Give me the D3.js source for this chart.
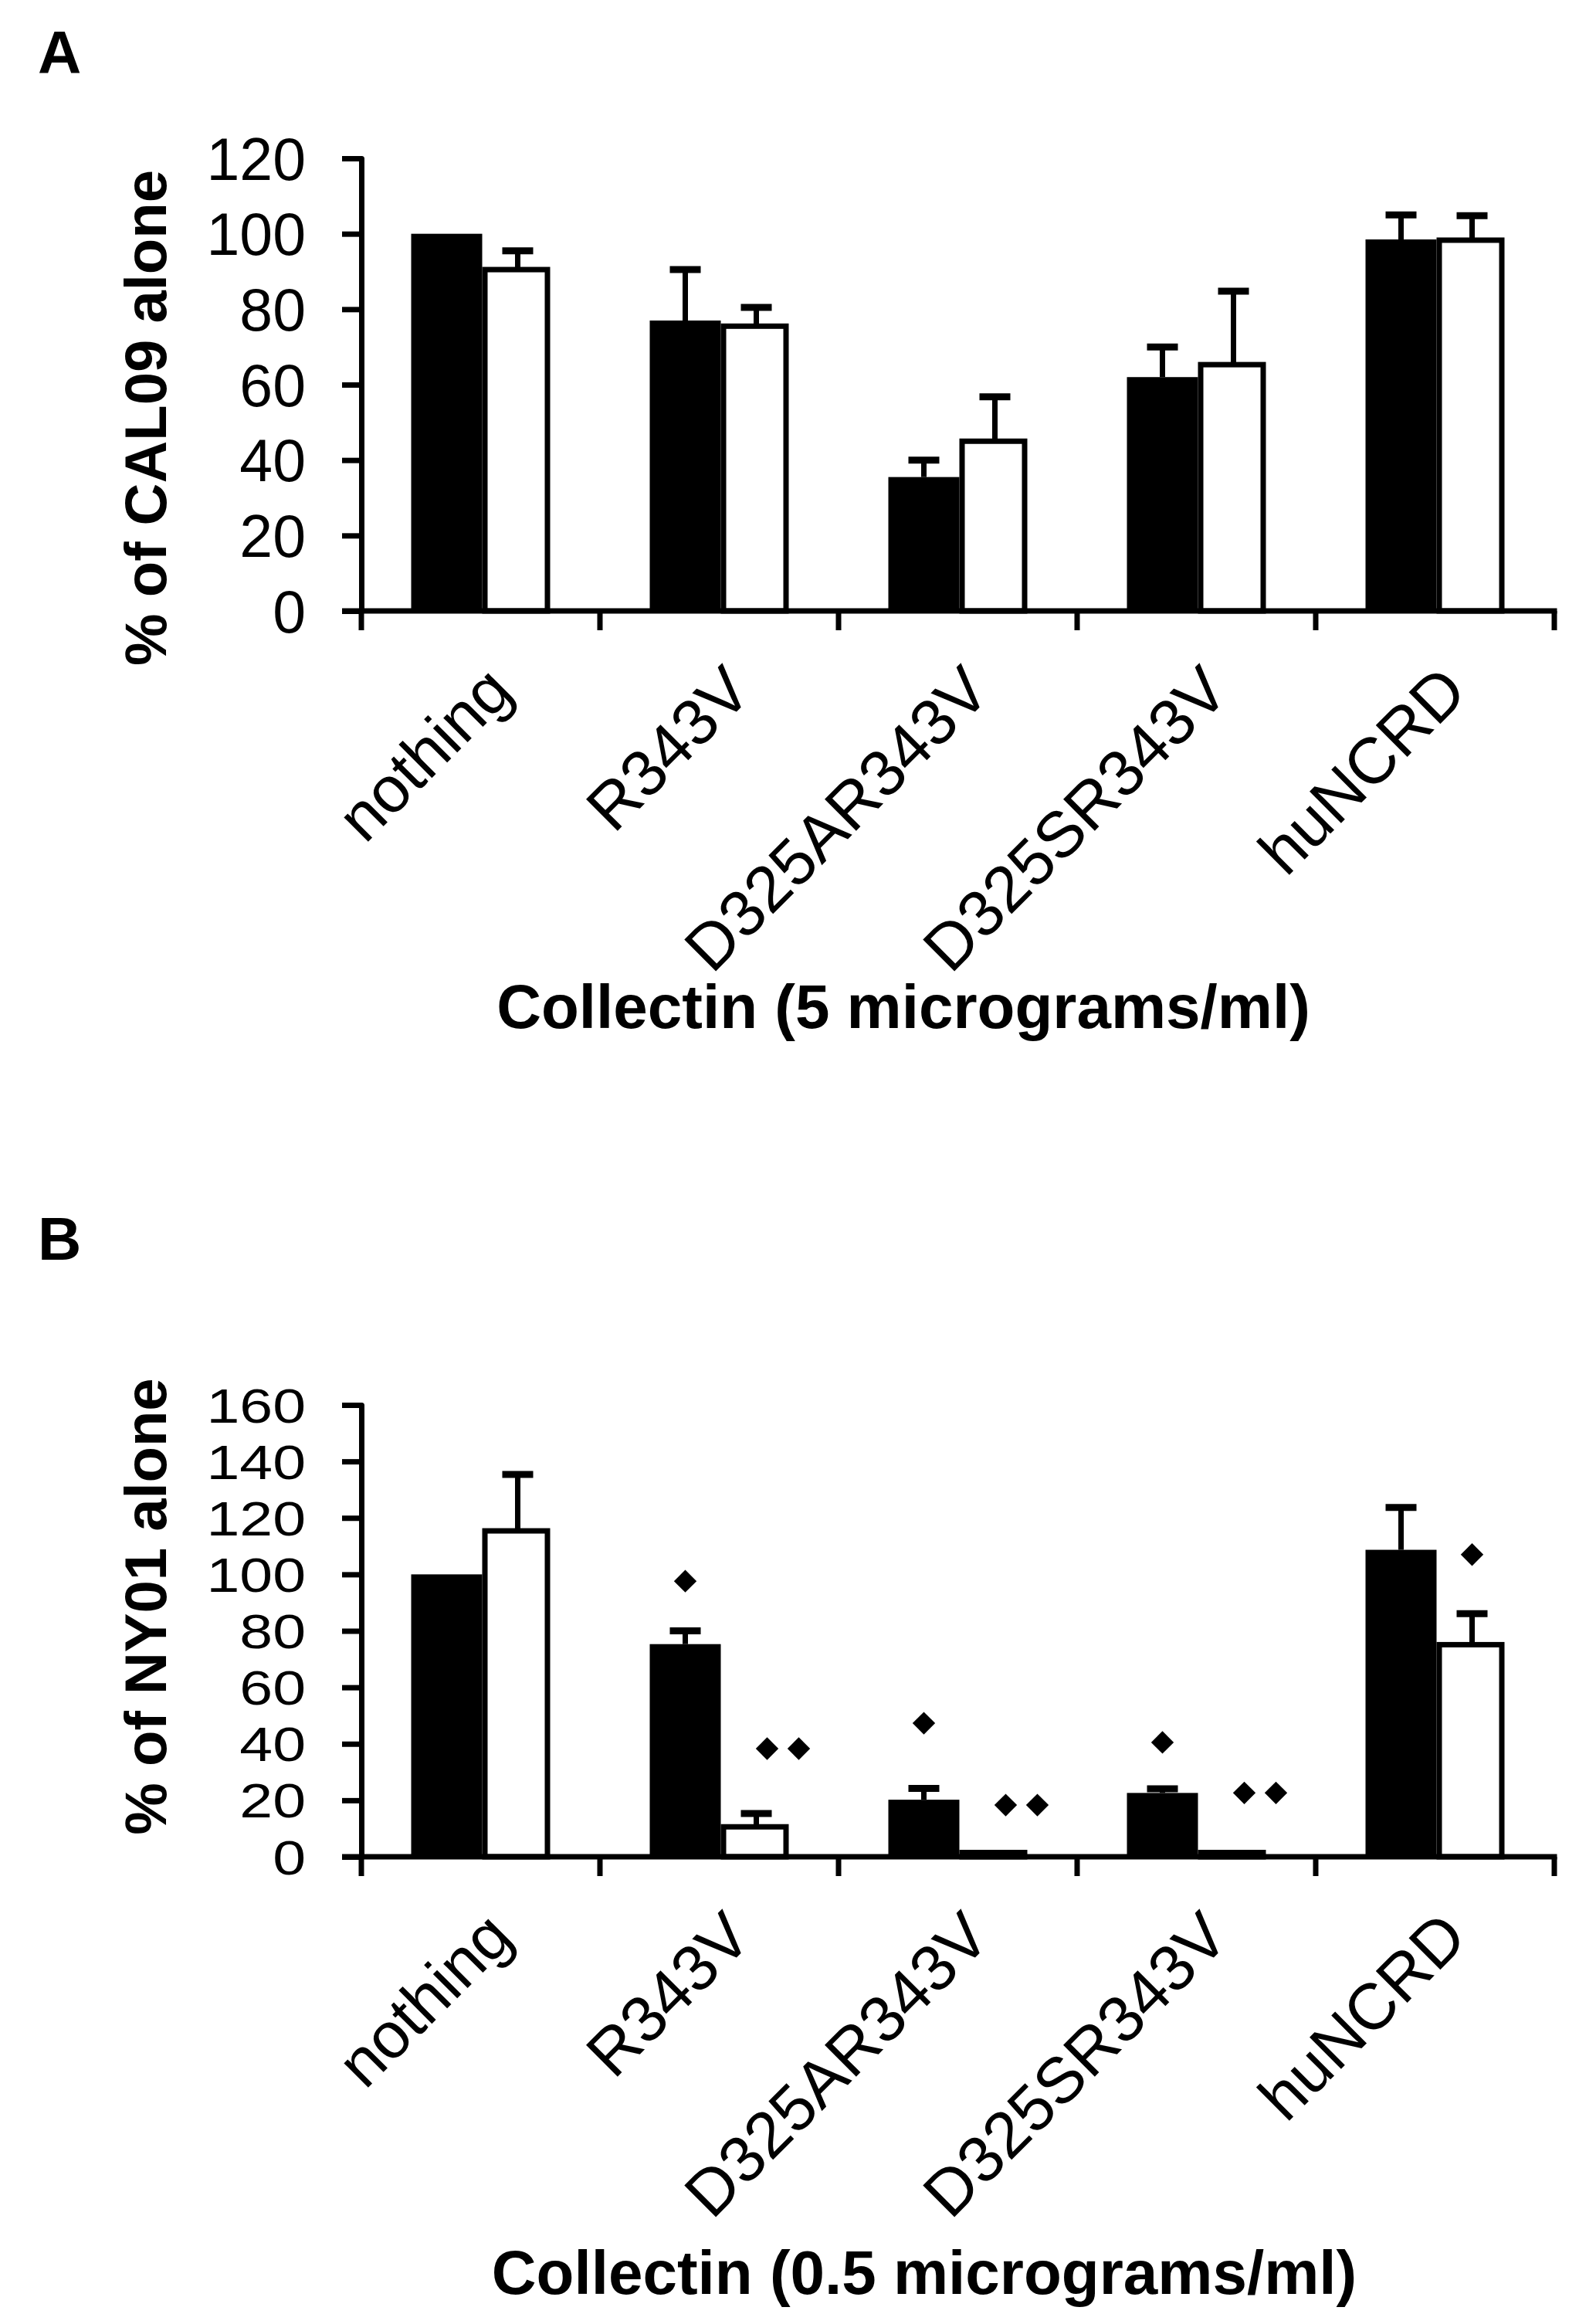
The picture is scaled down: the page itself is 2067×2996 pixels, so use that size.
<!DOCTYPE html>
<html>
<head>
<meta charset="utf-8">
<script src="https://cdn.jsdelivr.net/npm/d3@7"></script>
<style>
  body { margin: 0; background: #fff; }
  text { font-family: "Liberation Sans", Arial, sans-serif; fill: #000; }
</style>
</head>
<body>
<div id="chart"></div>
<script>
// categories shared by both panels
var categories = ["nothing", "R343V", "D325AR343V", "D325SR343V", "huNCRD"];
var seriesNames = ["black", "white"];

// panel A : % of CAL09 alone
var calBlack = [100, 77, 35.5, 62, 98.5];
var calBlackErr = [0, 13.5, 4.5, 8, 6.5];
var calWhite = [90.5, 75.5, 45, 65.3, 98.3];
var calWhiteErr = [5, 5, 11.8, 19.5, 6.5];
var calTicks = [0, 20, 40, 60, 80, 100, 120];

// panel B : % of NY01 alone
var nyBlack = [100, 75.3, 20.2, 22.6, 108.7];
var nyBlackErr = [0, 4.7, 4, 1.5, 15];
var nyWhite = [115.4, 10.6, 1.5, 1.5, 75.1];
var nyWhiteErr = [20, 4.7, 0, 0, 11];
var nyTicks = [0, 20, 40, 60, 80, 100, 120, 140, 160];

// significance diamonds in panel B (category, series, number of diamonds, height in % units)
var markCats = ["R343V", "R343V", "D325AR343V", "D325AR343V", "D325SR343V", "D325SR343V", "huNCRD"];
var markSeries = ["black", "white", "black", "white", "black", "white", "white"];
var markCount = [1, 2, 1, 2, 1, 2, 1];
var markLevel = [97.6, 38.3, 47.3, 18.3, 40.5, 22.6, 107];

var svg = d3.select("#chart").append("svg")
    .attr("width", 2067)
    .attr("height", 2996);

function drawPanel(p) {
    var g = svg.append("g");

    var x = d3.scaleBand().domain(categories).range([468, 2013]);
    var sub = d3.scaleBand().domain(seriesNames).range([-92, 92]);
    var y = d3.scaleLinear().domain([0, p.max]).range([p.y0, p.yTop]);

    // panel letter
    g.append("text")
        .attr("x", 49)
        .attr("y", p.letterY)
        .style("font-size", "78px")
        .style("font-weight", "bold")
        .text(p.letter);

    // bars
    var rows = [];
    categories.forEach(function (c, i) {
        rows.push({cat: c, s: "black", v: p.black[i], e: p.blackErr[i]});
        rows.push({cat: c, s: "white", v: p.white[i], e: p.whiteErr[i]});
    });

    function cx(d) {
        return x(d.cat) + x.bandwidth() / 2 + 2;
    }

    // error bars (upper only)
    var err = rows.filter(function (d) { return d.e > 0; });
    g.selectAll(".ev").data(err).enter().append("line")
        .attr("x1", function (d) { return cx(d) + sub(d.s) + sub.bandwidth() / 2; })
        .attr("x2", function (d) { return cx(d) + sub(d.s) + sub.bandwidth() / 2; })
        .attr("y1", function (d) { return y(d.v); })
        .attr("y2", function (d) { return y(d.v + d.e); })
        .attr("stroke", "#000")
        .attr("stroke-width", 7);
    g.selectAll(".ec").data(err).enter().append("line")
        .attr("x1", function (d) { return cx(d) + sub(d.s) + sub.bandwidth() / 2 - 20; })
        .attr("x2", function (d) { return cx(d) + sub(d.s) + sub.bandwidth() / 2 + 20; })
        .attr("y1", function (d) { return y(d.v + d.e); })
        .attr("y2", function (d) { return y(d.v + d.e); })
        .attr("stroke", "#000")
        .attr("stroke-width", 9);

    g.selectAll(".bar").data(rows).enter().append("rect")
        .attr("x", function (d) { return cx(d) + sub(d.s) + (d.s == "white" ? 3.5 : 0); })
        .attr("y", function (d) { return y(d.v); })
        .attr("width", function (d) { return d.s == "white" ? sub.bandwidth() - 11 : sub.bandwidth(); })
        .attr("height", function (d) { return y(0) - y(d.v); })
        .attr("fill", function (d) { return d.s == "white" ? "#fff" : "#000"; })
        .attr("stroke", "#000")
        .attr("stroke-width", function (d) { return d.s == "white" ? 7 : 0; });

    // y axis
    var yAxis = g.append("g")
        .attr("transform", "translate(468,0)")
        .call(d3.axisLeft(y).tickValues(p.ticks).tickSize(25).tickSizeOuter(25).tickPadding(47));
    yAxis.select(".domain").attr("stroke-width", 7).attr("stroke-linejoin", "round");
    yAxis.selectAll(".tick line").attr("stroke-width", 7);
    // tick labels squeezed a little vertically when the ticks are close (panel B)
    var squeeze = Math.min(1, (y(0) - y(p.ticks[1])) / (77 * 1.16));
    yAxis.selectAll(".tick text")
        .style("font-size", "77px")
        .style("font-family", "'Liberation Sans', Arial, sans-serif")
        .attr("x", null)
        .attr("dy", null)
        .attr("transform", "translate(-72,0) scale(1," + squeeze + ") translate(0,27)");

    // x axis with ticks between categories
    var bounds = categories.map(function (c) { return x(c); }).concat([x.range()[1]]);
    g.append("line")
        .attr("x1", 443).attr("x2", x.range()[1] + 3.5)
        .attr("y1", y(0)).attr("y2", y(0))
        .attr("stroke", "#000").attr("stroke-width", 7);
    g.selectAll(".xt").data(bounds).enter().append("line")
        .attr("x1", function (d) { return d; })
        .attr("x2", function (d) { return d; })
        .attr("y1", y(0))
        .attr("y2", y(0) + 25)
        .attr("stroke", "#000").attr("stroke-width", 7);

    g.selectAll(".xl").data(categories).enter().append("text")
        .attr("transform", function (d) {
            return "translate(" + (x(d) + x.bandwidth() / 2 + 45) + "," + (y(0) + 108) + ") rotate(-45)";
        })
        .attr("text-anchor", "end")
        .style("font-size", "84px")
        .text(function (d) { return d; });

    // axis titles
    g.append("text")
        .attr("x", p.xTitleX)
        .attr("y", p.xTitleY)
        .attr("text-anchor", "middle")
        .style("font-size", "80px")
        .style("font-weight", "bold")
        .text(p.xTitle);

    g.append("text")
        .attr("transform", "translate(215," + p.yTitleY + ") rotate(-90)")
        .attr("text-anchor", "middle")
        .style("font-size", "76px")
        .style("font-weight", "bold")
        .text(p.yTitle);

    // significance marks
    if (p.marks) {
        var diamond = d3.symbol().type(d3.symbolSquare).size(430);
        var pts = [];
        p.marks.cats.forEach(function (c, i) {
            var base = cx({cat: c}) + sub(p.marks.series[i]) + sub.bandwidth() / 2;
            if (p.marks.count[i] == 1) {
                pts.push({x: base, v: p.marks.level[i]});
            } else {
                pts.push({x: base + 14, v: p.marks.level[i]});
                pts.push({x: base + 55, v: p.marks.level[i]});
            }
        });
        g.selectAll(".mk").data(pts).enter().append("path")
            .attr("d", diamond)
            .attr("transform", function (d) {
                return "translate(" + d.x + "," + y(d.v) + ") rotate(45)";
            })
            .attr("fill", "#000");
    }
}

drawPanel({
    letter: "A", letterY: 95,
    black: calBlack, blackErr: calBlackErr, white: calWhite, whiteErr: calWhiteErr,
    max: 120, ticks: calTicks, y0: 791, yTop: 205,
    xTitle: "Collectin (5 micrograms/ml)", xTitleX: 1170, xTitleY: 1331,
    yTitle: "% of CAL09 alone", yTitleY: 541
});

drawPanel({
    letter: "B", letterY: 1631,
    black: nyBlack, blackErr: nyBlackErr, white: nyWhite, whiteErr: nyWhiteErr,
    max: 160, ticks: nyTicks, y0: 2404, yTop: 1819,
    xTitle: "Collectin (0.5 micrograms/ml)", xTitleX: 1197, xTitleY: 2970,
    yTitle: "% of NY01 alone", yTitleY: 2080,
    marks: {cats: markCats, series: markSeries, count: markCount, level: markLevel}
});
</script>
</body>
</html>
